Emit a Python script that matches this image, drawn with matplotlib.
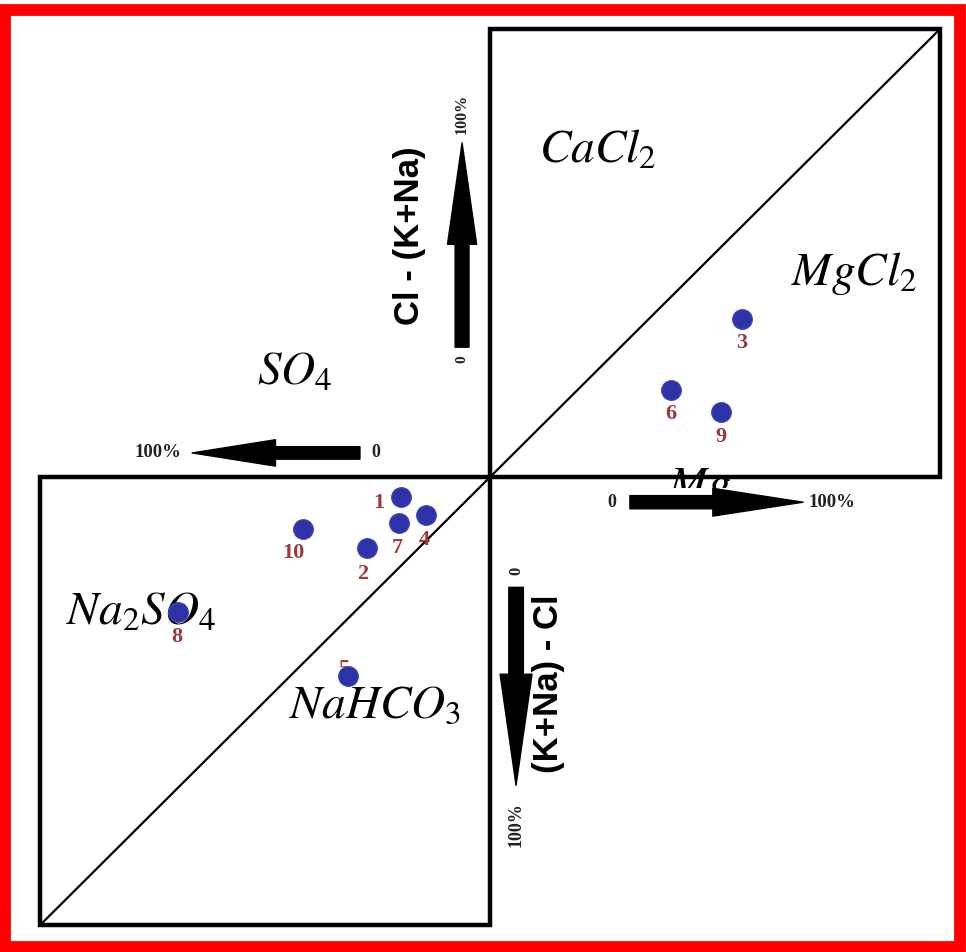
import matplotlib
matplotlib.use('Agg')
import matplotlib.pyplot as plt
from matplotlib.patches import Rectangle, FancyArrowPatch, ArrowStyle

plt.rcParams['mathtext.fontset'] = 'stix'

# sample data (percent units, centre of diagram = 0,0)
sample_ids = ['1', '2', '3', '4', '5', '6', '7', '8', '9', '10']
x_vals = [-19.7, -27.3, 56.0, -14.2, -31.6, 40.2, -20.2, -69.3, 51.3, -41.6]
y_vals = [-4.5, -15.8, 35.3, -8.5, -44.4, 19.4, -10.3, -30.1, 14.5, -11.6]
# label offsets (points) relative to each marker
label_dx = [-16, -3, 0, -1, -3, 0, -1, -1, 0, -7]
label_dy = [-4, -19, -17, -18, 5, -17, -18, -18, -18, -17]

fig = plt.figure(figsize=(9.66, 9.52), dpi=100)
ax = fig.add_axes([0, 0, 1, 1])
ax.set_xlim(-108.9, 105.8)
ax.set_ylim(-106.0, 106.5)
ax.axis('off')

# outer red frame
fig.add_artist(Rectangle((5 / 966, 5 / 952), 955 / 966, 937 / 952,
                         transform=fig.transFigure, fill=False,
                         edgecolor='#ff0000', linewidth=8.5))

# the two squares and their diagonals
for x0 in (0, -100):
    ax.add_patch(Rectangle((x0, x0), 100, 100, fill=False,
                           edgecolor='black', linewidth=3.2, zorder=2))
ax.plot([-100, 100], [-100, 100], color='black', linewidth=1.6, zorder=2)

# region names
region_kw = dict(fontsize=34, ha='center', va='center', color='black')
ax.text(24.0, 73.0, r'$CaCl_2$', **region_kw)
ax.text(81.0, 45.5, r'$MgCl_2$', **region_kw)
ax.text(-43.5, 23.4, r'$SO_4$', **region_kw)
ax.text(-77.5, -30.1, r'$Na_2SO_4$', zorder=3, **region_kw)
ax.text(-25.5, -51.0, r'$NaHCO_3$', zorder=3, **region_kw)
ax.text(46.6, -4.6, r'$Mg$', fontsize=33, ha='center', va='baseline', zorder=3)
# strip that hides the lower half of the "Mg" label, as in the original
ax.add_patch(Rectangle((35, -10.5), 24, 8.0, facecolor='white',
                       edgecolor='none', zorder=4))


def big_arrow(x0, y0, x1, y1, head_len, head_w, tail_w):
    style = ArrowStyle.Simple(head_length=head_len, head_width=head_w,
                              tail_width=tail_w)
    ax.add_patch(FancyArrowPatch((x0, y0), (x1, y1), arrowstyle=style,
                                 mutation_scale=1, color='black',
                                 shrinkA=0, shrinkB=0, zorder=5))


big_arrow(-6.2, 29.0, -6.2, 74.6, 73, 21, 10)     # up
big_arrow(-28.9, 5.4, -66.2, 5.4, 60, 19, 9)      # left
big_arrow(31.1, -5.6, 69.6, -5.6, 65, 20, 9.5)    # right
big_arrow(5.8, -24.6, 5.8, -68.8, 80, 23, 10.5)   # down

tick_kw = dict(family='Liberation Serif', fontweight='bold', color='#222222',
               ha='center', va='center', zorder=5)
ax.text(-25.3, 5.4, '0', fontsize=13, **tick_kw)
ax.text(-73.8, 5.4, '100%', fontsize=13.5, **tick_kw)
ax.text(27.1, -5.6, '0', fontsize=13, **tick_kw)
ax.text(76.0, -5.6, '100%', fontsize=13.5, **tick_kw)
ax.text(-6.2, 26.4, '0', fontsize=11, rotation=90, **tick_kw)
ax.text(-6.2, 81.0, '100%', fontsize=11.5, rotation=90, **tick_kw)
ax.text(5.8, -21.0, '0', fontsize=12, rotation=90, **tick_kw)
ax.text(5.8, -77.5, '100%', fontsize=13, rotation=90, **tick_kw)

axis_kw = dict(family='Liberation Sans', fontweight='bold', fontsize=25,
               rotation=90, ha='center', va='center', color='black')
ax.text(-17.8, 54.0, 'Cl - (K+Na)', **axis_kw)
ax.text(12.9, -46.0, '(K+Na) - Cl', **axis_kw)

# samples
for sid, x, y, dx, dy in zip(sample_ids, x_vals, y_vals, label_dx, label_dy):
    ax.annotate(sid, (x, y), xytext=(dx, dy), textcoords='offset points',
                family='Liberation Serif', fontweight='bold', fontsize=16,
                color='#9b3a3a', ha='center', va='center', zorder=6)
ax.plot(x_vals, y_vals, 'o', color='#2d33a6', markersize=14,
        markeredgecolor='#3a40b8', zorder=7)

fig.savefig('out.png', dpi=100)
